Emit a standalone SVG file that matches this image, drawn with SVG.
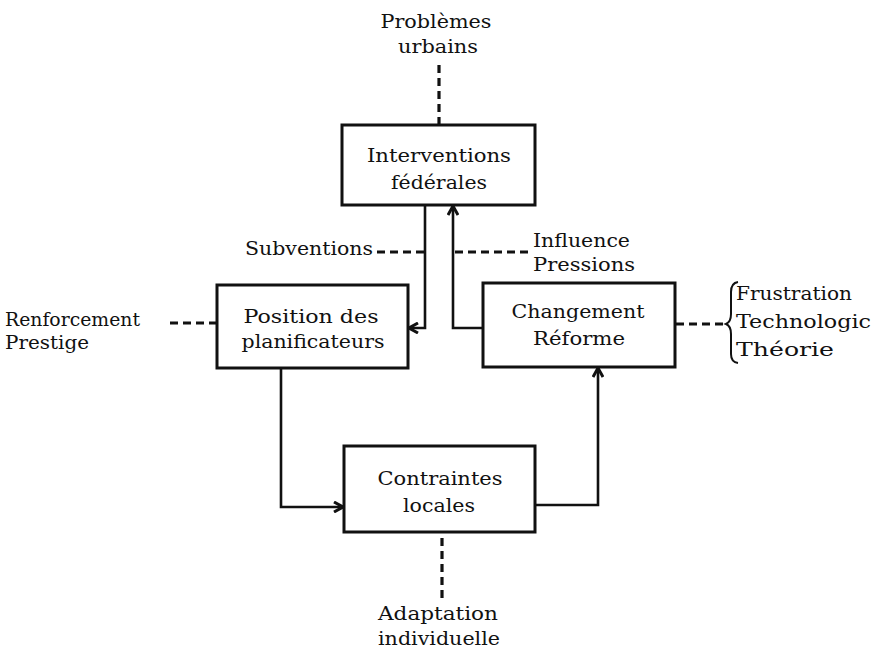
<svg xmlns="http://www.w3.org/2000/svg" width="872" height="650" viewBox="0 0 872 650">
<style>
text{font-family:"DejaVu Serif","Liberation Serif",serif;font-size:19px;fill:#111;}
.sm{font-size:18px;}
.box{fill:#fff;stroke:#111;stroke-width:3;}
.ln{fill:none;stroke:#111;stroke-width:2.6;}
.dash{fill:none;stroke:#111;stroke-width:3.2;stroke-dasharray:8 5;}
.c{text-anchor:middle;}
</style>
<defs>
<marker id="arr" viewBox="0 0 12 12" refX="11" refY="6" markerWidth="12" markerHeight="12" markerUnits="userSpaceOnUse" orient="auto">
<path d="M2,1 L11,6 L2,11" fill="none" stroke="#111" stroke-width="3"/>
</marker>
</defs>
<g id="connectors">
<path class="dash" d="M439,65 V124"/>
<path class="ln" d="M425,205 V328 H409" marker-end="url(#arr)"/>
<path class="ln" d="M483,328 H453 V206" marker-end="url(#arr)"/>
<path class="ln" d="M281,368 V507 H343" marker-end="url(#arr)"/>
<path class="ln" d="M535,505 H598 V368" marker-end="url(#arr)"/>
<path class="dash" d="M377,252 H424"/>
<path class="dash" d="M455,252 H530"/>
<path class="dash" d="M170,323 H216"/>
<path class="dash" d="M676,324 H726"/>
<path class="dash" d="M442,538 V598"/>
<path d="M738,282 Q731,283 731,292 V314 Q731,322 726,324 Q731,326 731,334 V354 Q731,362 738,363" fill="none" stroke="#111" stroke-width="2"/>
</g>
<g id="interventions">
<rect class="box" x="342" y="125" width="193" height="80"/>
<text class="c" x="439" y="162" textLength="144" lengthAdjust="spacingAndGlyphs">Interventions</text>
<text class="c" x="439" y="189" textLength="96" lengthAdjust="spacingAndGlyphs">fédérales</text>
</g>
<g id="position">
<rect class="box" x="217" y="285" width="191" height="83"/>
<text class="c" x="311" y="323" textLength="135" lengthAdjust="spacingAndGlyphs">Position des</text>
<text class="c" x="313" y="348" textLength="143" lengthAdjust="spacingAndGlyphs">planificateurs</text>
</g>
<g id="changement">
<rect class="box" x="483" y="283" width="192" height="84"/>
<text class="c" x="578" y="318" textLength="133" lengthAdjust="spacingAndGlyphs">Changement</text>
<text class="c" x="579" y="345" textLength="92" lengthAdjust="spacingAndGlyphs">Réforme</text>
</g>
<g id="contraintes">
<rect class="box" x="344" y="446" width="191" height="86"/>
<text class="c" x="440" y="485" textLength="125" lengthAdjust="spacingAndGlyphs">Contraintes</text>
<text class="c" x="439" y="512" textLength="72" lengthAdjust="spacingAndGlyphs">locales</text>
</g>
<g id="labels">
<text class="c" x="436" y="28" textLength="111" lengthAdjust="spacingAndGlyphs">Problèmes</text>
<text class="c" x="438" y="53" textLength="80" lengthAdjust="spacingAndGlyphs">urbains</text>
<text x="245" y="255" textLength="128" lengthAdjust="spacingAndGlyphs">Subventions</text>
<text x="533" y="247" textLength="97" lengthAdjust="spacingAndGlyphs">Influence</text>
<text x="533" y="271" textLength="102" lengthAdjust="spacingAndGlyphs">Pressions</text>
<text class="sm" x="5" y="326" textLength="135" lengthAdjust="spacingAndGlyphs">Renforcement</text>
<text class="sm" x="5" y="349" textLength="84" lengthAdjust="spacingAndGlyphs">Prestige</text>
<text x="736" y="300" textLength="116" lengthAdjust="spacingAndGlyphs">Frustration</text>
<text x="736" y="328" textLength="135" lengthAdjust="spacingAndGlyphs">Technologic</text>
<text x="736" y="356" textLength="98" lengthAdjust="spacingAndGlyphs">Théorie</text>
<text class="c" x="438" y="620" textLength="120" lengthAdjust="spacingAndGlyphs">Adaptation</text>
<text class="c" x="439" y="645" textLength="122" lengthAdjust="spacingAndGlyphs">individuelle</text>
</g>
</svg>
